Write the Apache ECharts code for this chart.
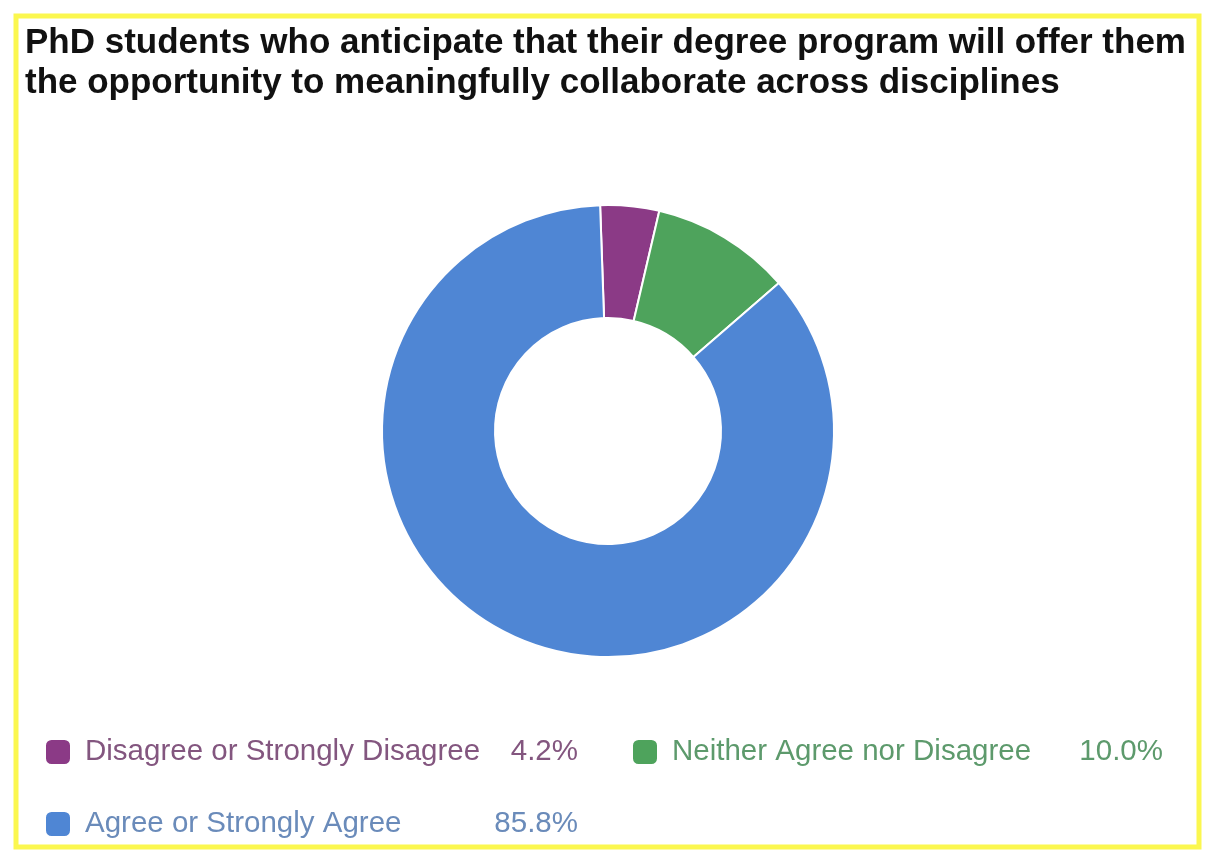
<!DOCTYPE html>
<html>
<head>
    <meta charset="utf-8">
    <title>Collaborate across disciplines</title>
    <script src="https://cdn.jsdelivr.net/npm/echarts@6/dist/echarts.min.js"></script>
    <style>
        body { margin: 0; background: #fff; }
        #main { width: 1214px; height: 864px; }
    </style>
</head>
<body>
    <div id="main"></div>
    <script type="text/javascript">
        // data
        var categories = ['Disagree or Strongly Disagree', 'Neither Agree nor Disagree', 'Agree or Strongly Agree'];
        var shares = [4.2, 10.0, 85.8];
        var sliceColors = ['#8b3a86', '#4ea35c', '#4f86d4'];
        var textColors = ['#83567f', '#5d9a6c', '#6a8bba'];
        var titleText = 'PhD students who anticipate that their degree program will offer them\nthe opportunity to meaningfully collaborate across disciplines';

        var myChart = echarts.init(document.getElementById('main'));

        var pieData = [];
        for (var i = 0; i < categories.length; i++) {
            pieData.push({ name: categories[i], value: shares[i], itemStyle: { color: sliceColors[i] } });
        }

        // one legend block per item, laid out like the original (2 columns)
        var legendPos = [
            { left: 44, top: 737, nameW: 390, pctW: 103 },
            { left: 631, top: 737, nameW: 388, pctW: 103 },
            { left: 44, top: 809, nameW: 390, pctW: 103 }
        ];
        var legendFont = 'Liberation Sans, Arial, sans-serif';
        var legends = [];
        for (var j = 0; j < categories.length; j++) {
            (function (k) {
                legends.push({
                    left: legendPos[k].left,
                    top: legendPos[k].top,
                    padding: 0,
                    selectedMode: false,
                    icon: 'roundRect',
                    itemWidth: 26,
                    itemHeight: 26,
                    data: [{ name: categories[k] }],
                    formatter: function (name) {
                        return '{s|}{n|' + name + '}{p|' + shares[k].toFixed(1) + '%}';
                    },
                    textStyle: {
                        color: textColors[k],
                        fontFamily: legendFont,
                        fontSize: 29.5,
                        lineHeight: 30,
                        rich: {
                            s: { width: 9 },
                            n: { width: legendPos[k].nameW, color: textColors[k], fontSize: 29.5, fontFamily: legendFont },
                            p: { width: legendPos[k].pctW, align: 'right', color: textColors[k], fontSize: 29.5, fontFamily: legendFont }
                        }
                    }
                });
            })(j);
        }

        var option = {
            backgroundColor: '#fff',
            animation: false,
            title: {
                text: titleText,
                left: 25,
                top: 23,
                padding: 0,
                textStyle: {
                    color: '#111',
                    fontFamily: 'Liberation Sans, Arial, sans-serif',
                    fontWeight: 'bold',
                    fontSize: 35,
                    lineHeight: 40
                }
            },
            legend: legends,
            graphic: [{
                type: 'rect',
                shape: { x: 16, y: 16, width: 1183, height: 831 },
                style: { fill: 'none', stroke: '#fbf74f', lineWidth: 5 },
                silent: true
            }],
            series: [{
                type: 'pie',
                center: [608, 431],
                radius: [113, 226],
                startAngle: 92,
                clockwise: true,
                label: { show: false },
                labelLine: { show: false },
                itemStyle: { borderColor: '#fff', borderWidth: 2 },
                emphasis: { disabled: true },
                data: pieData
            }]
        };

        myChart.setOption(option);
    </script>
</body>
</html>
